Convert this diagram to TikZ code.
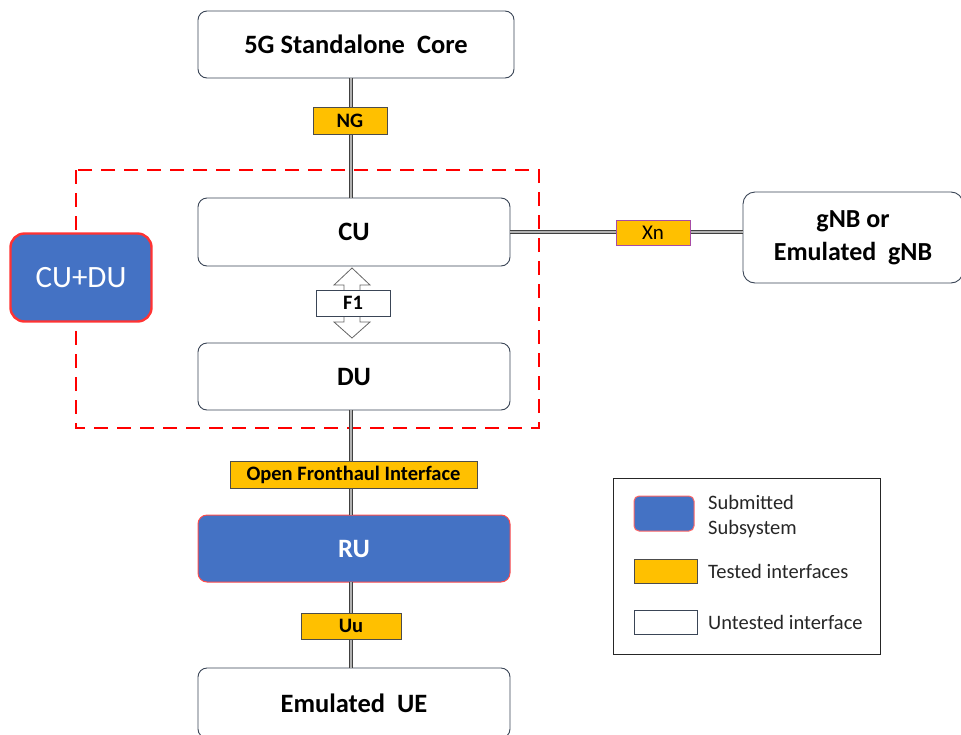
\documentclass[tikz,border=0pt]{standalone}
\usepackage{fontspec}
\setmainfont{Carlito}
\begin{document}
\begin{tikzpicture}[x=1pt,y=-1pt,
  blockbox/.style={draw=edgegray, line width=0.9pt, rounded corners=9pt, fill=white,
    font=\fontsize{26.5}{32}\selectfont\bfseries, align=center, inner sep=0pt},
  subsys/.style={draw=red!70!white, line width=1pt, rounded corners=9pt, fill=subblue,
    text=white, font=\fontsize{26.5}{32}\selectfont\bfseries, inner sep=0pt},
  tested/.style={draw=black!70, line width=0.8pt, fill=tstorange, font=\fontsize{20.5}{24}\selectfont\bfseries, inner sep=0pt},
  link/.style={draw=black!75, line width=0.9pt, double=black!30, double distance=1.8pt},
  legtext/.style={anchor=west, font=\fontsize{20.5}{25}\selectfont, align=left, text=black!85, inner sep=0pt}
]
\definecolor{subblue}{HTML}{4472C4}
\definecolor{tstorange}{HTML}{FFC000}
\definecolor{edgegray}{HTML}{3A4556}
\useasboundingbox (0,0) rectangle (961,734);

% system dashed boundary
\draw[red, line width=2.6pt, dash pattern=on 14pt off 9pt] (76,170) rectangle (539,428);

% main blocks
\node[blockbox, minimum width=316pt, minimum height=67pt] (core) at (356,44.5) {5G Standalone\ \ Core};
\node[blockbox, minimum width=312pt, minimum height=68pt] (cu) at (354,232) {CU};
\node[blockbox, minimum width=312pt, minimum height=67pt] (du) at (354,376.5) {DU};
\node[subsys, minimum width=312pt, minimum height=67pt] (ru) at (354,548.5) {RU};
\node[blockbox, minimum width=312pt, minimum height=70pt] (ue) at (354,703) {Emulated\ \ UE};
\node[blockbox, minimum width=220pt, minimum height=91pt, rounded corners=12pt, font=\fontsize{26}{33}\selectfont\bfseries] (gnb) at (853,237.5) {gNB or\\Emulated\ \ gNB};
\node[subsys, draw=red!80!white, line width=2.4pt, rounded corners=14pt, minimum width=141pt, minimum height=88pt,
  font=\fontsize{31}{36}\selectfont] (cudu) at (81,277.5) {CU+DU};

% links
\coordinate (cutop) at (351,198);
\coordinate (duLow) at (351,410);
\draw[link] (351,78) -- (cutop);
\draw[link] (duLow) -- (351,515);
\draw[link] (351,582) -- (351,668);
\draw[link] (cu.east |- 0,232) -- (gnb.west |- 0,232);

% interface labels
\node[tested, minimum width=74pt, minimum height=27pt] (ng) at (350,120.5) {NG};
\node[tested, minimum width=247pt, minimum height=27pt] (ofh) at (353.5,474.5) {Open Fronthaul Interface};
\node[tested, minimum width=100pt, minimum height=26pt] (uu) at (351,626) {Uu};
\node[tested, draw=violet!70, minimum width=74pt, minimum height=25pt, font=\fontsize{21}{24}\selectfont] (xn) at (653,232.5) {Xn};

% F1 hollow double arrow
\draw[black!60, line width=0.8pt, fill=white]
  (352,268) -- (370,285) -- (360,285) -- (360,322) -- (370,322) -- (352,338)
  -- (334,322) -- (344,322) -- (344,285) -- (334,285) -- cycle;
\node[tested, fill=white, draw=edgegray, minimum width=74pt, minimum height=26pt] (f1) at (353,303) {F1};

% legend
\node[draw=black!85, line width=0.8pt, minimum width=267pt, minimum height=176pt, inner sep=0pt] (legend) at (746.5,566) {};
\node[draw=red!60!white, line width=1pt, rounded corners=5pt, fill=subblue, minimum width=60pt, minimum height=35pt, inner sep=0pt] (lsub) at (664,513.5) {};
\node[draw=black!70, line width=0.8pt, fill=tstorange, minimum width=63pt, minimum height=24pt, inner sep=0pt] (ltest) at (665.5,571) {};
\node[draw=edgegray, line width=0.8pt, fill=white, minimum width=63pt, minimum height=24pt, inner sep=0pt] (lun) at (665.5,622) {};
\node[legtext] (tsub) at (708,516.5) {Submitted\\Subsystem};
\node[legtext] (ttest) at (708,571) {Tested interfaces};
\node[legtext] (tun) at (708,622) {Untested interface};
\end{tikzpicture}
\end{document}
